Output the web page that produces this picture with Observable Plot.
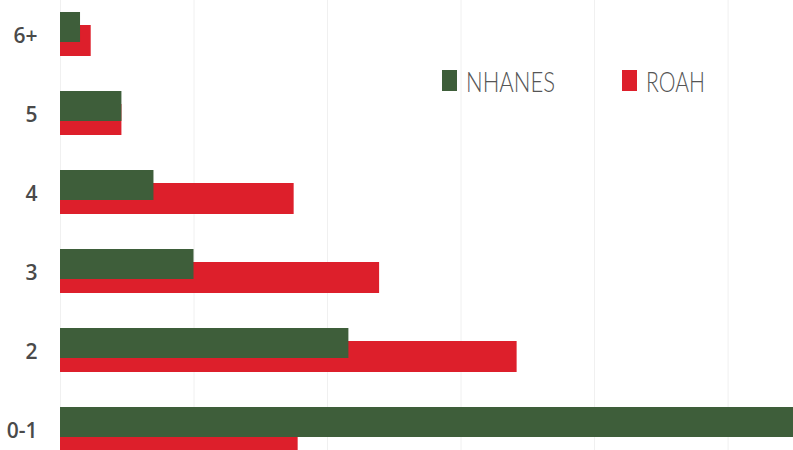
<!DOCTYPE html>
<html>
<head>
<meta charset="utf-8">
<script src="https://cdn.jsdelivr.net/npm/d3@7"></script>
<script src="https://cdn.jsdelivr.net/npm/@observablehq/plot@0.6"></script>
<style>
  html, body { margin: 0; padding: 0; background: #ffffff; }
  #chart { width: 793px; height: 450px; overflow: hidden; }
</style>
</head>
<body>
<div id="chart"></div>
<script>
const categories = ["6+", "5", "4", "3", "2", "0-1"];
const nhanesValues = [1.5, 4.6, 7.0, 10.0, 21.6, 55.3];
const roahValues = [2.3, 4.6, 17.5, 23.9, 34.2, 17.8];
const seriesNames = ["NHANES", "ROAH"];
const seriesColors = ["#3e5e3a", "#dd1f2b"];
const gridTicks = [0, 10, 20, 30, 40, 50];

const nhanesRows = categories.map((c, i) => ({category: c, series: seriesNames[0], value: nhanesValues[i]}));
const roahRows = categories.map((c, i) => ({category: c, series: seriesNames[1], value: roahValues[i]}));

const chart = Plot.plot({
  width: 793,
  height: 450,
  marginLeft: 60,
  marginRight: 0,
  marginTop: 0,
  marginBottom: 0,
  style: {background: "#ffffff"},
  x: {domain: [0, 54.9], range: [60, 793], axis: null},
  y: {domain: categories, range: [12, 452], paddingInner: 0.443, paddingOuter: 0, align: 0, axis: null},
  marks: [
    Plot.ruleX(gridTicks, {stroke: "#f0f0f0", strokeWidth: 1}),
    Plot.barX(roahRows, {y: "category", x: "value", fill: seriesColors[1], insetTop: 13, clip: true}),
    Plot.barX(nhanesRows, {y: "category", x: "value", fill: seriesColors[0], insetBottom: 14, clip: true}),
    Plot.axisY({
      tickSize: 0,
      tickPadding: 23,
      dy: 2,
      fontSize: 21,
      fontWeight: 600,
      fontFamily: "Open Sans",
      fill: "#4a4a4a",
      label: null
    })
  ]
});

document.getElementById("chart").appendChild(chart);

// In-plot legend
const svg = d3.select(chart);
const legendItems = [
  {name: seriesNames[0], color: seriesColors[0], sx: 442, tx: 466, tl: 89},
  {name: seriesNames[1], color: seriesColors[1], sx: 622, tx: 646, tl: 59}
];
const lg = svg.append("g").attr("class", "legend").attr("text-anchor", "start");
legendItems.forEach(it => {
  lg.append("rect")
    .attr("x", it.sx).attr("y", 70)
    .attr("width", 15).attr("height", 21)
    .attr("fill", it.color);
  lg.append("text")
    .attr("x", it.tx).attr("y", 92)
    .attr("text-anchor", "start")
    .attr("font-family", "Lato")
    .attr("font-weight", 300)
    .attr("font-size", 28)
    .attr("fill", "#555555")
    .attr("textLength", it.tl)
    .attr("lengthAdjust", "spacingAndGlyphs")
    .text(it.name);
});
</script>
</body>
</html>
